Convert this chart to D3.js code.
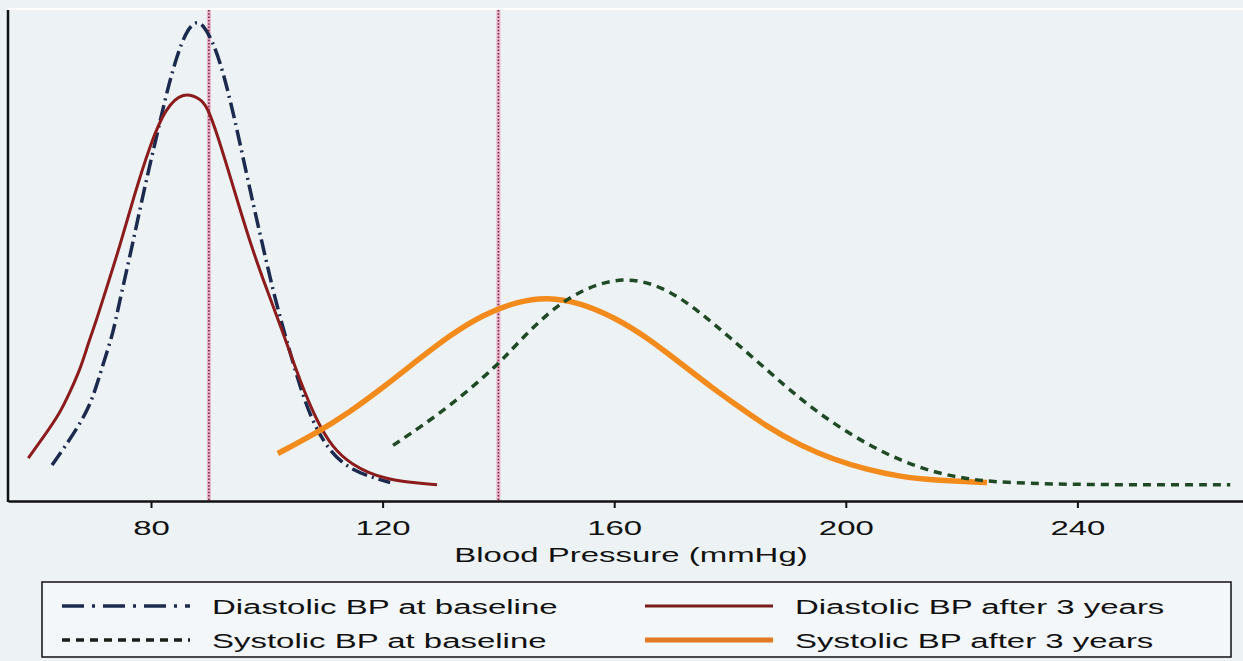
<!DOCTYPE html>
<html>
<head>
<meta charset="utf-8">
<script src="https://cdn.jsdelivr.net/npm/d3@7"></script>
<style>
  html, body { margin: 0; padding: 0; background: #edf3f5; }
  svg { display: block; }
  text { font-family: "Liberation Sans", Arial, Helvetica, sans-serif; fill: #111; }
</style>
</head>
<body>
<svg id="chart" width="1243" height="661"></svg>
<script>
// ---------------- data (BP in mmHg, kernel density) ----------------
const xTicks = [80, 120, 160, 200, 240];
const refLines = [90, 140];
const xTitle = "Blood Pressure (mmHg)";

const diastolicBaseline = [
  [62.9, 0.0018], [65.0, 0.0033], [67.4, 0.0051], [69.4, 0.0069], [70.7, 0.0088],
  [72.1, 0.0111], [73.5, 0.0133], [74.3, 0.0153], [76.4, 0.0199], [78.1, 0.0239],
  [79.8, 0.0277], [81.6, 0.0315], [83.0, 0.0345], [84.5, 0.0371], [86.0, 0.0391],
  [87.6, 0.0401], [89.0, 0.0398], [90.7, 0.0383], [92.4, 0.0358], [94.2, 0.0322],
  [95.9, 0.0283], [97.6, 0.0244], [99.4, 0.0205], [101.1, 0.0168], [102.7, 0.0138],
  [104.6, 0.0105], [106.3, 0.0077], [108.0, 0.0055], [110.5, 0.0032], [114.4, 0.0013],
  [121.3, 0.0003]
];
const diastolicAfter = [
  [58.8, 0.0024], [61.4, 0.0042], [64.3, 0.0063], [66.0, 0.0081], [67.8, 0.0101],
  [69.1, 0.0122], [70.7, 0.0145], [71.7, 0.0161], [74.7, 0.0208], [77.0, 0.0249],
  [79.9, 0.0295], [82.5, 0.0326], [85.6, 0.0340], [88.5, 0.0334], [89.7, 0.0327],
  [91.4, 0.0304], [94.2, 0.0258], [97.2, 0.0208], [100.1, 0.0168], [102.8, 0.0132],
  [105.7, 0.0091], [108.7, 0.0055], [111.4, 0.0033], [114.4, 0.0019], [120.1, 0.0005],
  [129.4, 0.0001]
];
const systolicBaseline = [
  [121.8, 0.0035], [131.6, 0.0068], [140.2, 0.0106], [142.5, 0.0119], [148.4, 0.0149],
  [154.1, 0.0169], [161.5, 0.0181], [168.5, 0.0172], [174.3, 0.0152], [180.0, 0.0128],
  [186.4, 0.0100], [192.1, 0.0075], [197.8, 0.0054], [203.7, 0.0036], [209.4, 0.0022],
  [215.1, 0.0012], [220.9, 0.0006], [226.7, 0.0003], [240.0, 0.0001], [266.4, 0.0001]
];
const systolicAfter = [
  [101.9, 0.0028], [108.7, 0.0046], [114.4, 0.0064], [120.1, 0.0085], [125.9, 0.0108],
  [131.6, 0.0130], [137.4, 0.0148], [143.3, 0.0159], [148.4, 0.0163], [154.1, 0.0158],
  [159.8, 0.0146], [165.7, 0.0128], [171.4, 0.0106], [177.1, 0.0084], [180.5, 0.0072],
  [186.4, 0.0051], [192.1, 0.0035], [197.8, 0.0023], [203.7, 0.0014], [209.4, 0.0008],
  [215.1, 0.0005], [224.4, 0.0003]
];
const seriesNames = [
  "Diastolic BP at baseline", "Diastolic BP after 3 years",
  "Systolic BP at baseline", "Systolic BP after 3 years"
];

// ---------------- drawing ----------------
const W = 1243, H = 661;
const SX = 1.57; // horizontal text stretch seen in the reference
const svg = d3.select("#chart");

svg.append("rect").attr("width", W).attr("height", H).attr("fill", "#edf3f5");

const x = d3.scaleLinear().domain([55.3, 268.6]).range([8, 1243]);
const y = d3.scaleLinear().domain([0, 0.04]).range([486, 22]);
const plotTop = 10, plotBottom = 501;

// thin white top border of plot region
svg.append("line").attr("x1", 8).attr("x2", W).attr("y1", plotTop - 1).attr("y2", plotTop - 1)
  .attr("stroke", "#ffffff").attr("stroke-width", 2);

// reference lines
const refG = svg.append("g");
refG.selectAll("line.pale").data(refLines).join("line")
  .attr("x1", d => x(d)).attr("x2", d => x(d))
  .attr("y1", plotTop).attr("y2", plotBottom)
  .attr("stroke", "#eab4c8").attr("stroke-width", 4);
refG.selectAll("line.dots").data(refLines).join("line")
  .attr("x1", d => x(d)).attr("x2", d => x(d))
  .attr("y1", plotTop).attr("y2", plotBottom)
  .attr("stroke", "#7a2448").attr("stroke-width", 1.6).attr("stroke-dasharray", "1.5,1.8");

const line = d3.line().x(d => x(d[0])).y(d => y(d[1])).curve(d3.curveBasis);

const styles = [
  { data: diastolicBaseline, color: "#1b2a4e", width: 3.5, dash: "16,5,2,5", legendDash: "22,8,3,8", legendColor: "#1b2a4e" },
  { data: diastolicAfter, color: "#8c1c1c", width: 3, dash: null, legendDash: null, legendColor: "#7a1c1c" },
  { data: systolicAfter, color: "#f28a1c", width: 5.5, dash: null, legendDash: null, legendColor: "#e37a22" },
  { data: systolicBaseline, color: "#1f4a24", width: 3.5, dash: "8,6", legendDash: "8,6", legendColor: "#1a1f1a" }
];
styles.forEach(s => {
  svg.append("path").datum(s.data)
    .attr("d", line).attr("fill", "none")
    .attr("stroke", s.color).attr("stroke-width", s.width)
    .attr("stroke-linecap", "butt").attr("stroke-linejoin", "round")
    .attr("stroke-dasharray", s.dash);
});

// axes
svg.append("line").attr("x1", 8).attr("x2", 8).attr("y1", plotTop).attr("y2", plotBottom + 1)
  .attr("stroke", "#111").attr("stroke-width", 2.5);

const xAxis = d3.axisBottom(x).tickValues(xTicks).tickSize(7).tickSizeOuter(0).tickPadding(12);
const gx = svg.append("g").attr("transform", `translate(0,${plotBottom})`).call(xAxis);
gx.select(".domain").attr("stroke", "#111").attr("stroke-width", 2.5);
gx.selectAll(".tick line").attr("stroke", "#111").attr("stroke-width", 2);
gx.selectAll(".tick text")
  .attr("font-size", 21).attr("fill", "#111")
  .attr("font-family", "Liberation Sans, Arial, sans-serif")
  .attr("y", 34).attr("dy", 0)
  .attr("transform", `scale(${SX},1)`);

function stretchedText(g, str, tx, ty, anchor) {
  return g.append("text")
    .attr("transform", `translate(${tx},${ty}) scale(${SX},1)`)
    .attr("text-anchor", anchor).attr("font-size", 21).text(str);
}
stretchedText(svg, xTitle, 631, 562, "middle");

// legend
const lg = svg.append("g");
lg.append("rect").attr("x", 42).attr("y", 582).attr("width", 1189).attr("height", 75)
  .attr("fill", "#f3f7f9").attr("stroke", "#111").attr("stroke-width", 1.5);

const legendItems = [
  { name: seriesNames[0], st: styles[0], col: 0, row: 0 },
  { name: seriesNames[1], st: styles[1], col: 1, row: 0 },
  { name: seriesNames[2], st: styles[3], col: 0, row: 1 },
  { name: seriesNames[3], st: styles[2], col: 1, row: 1 }
];
const colX = [62, 645], rowY = [606, 640];
legendItems.forEach(it => {
  const lx = colX[it.col], ly = rowY[it.row];
  lg.append("line").attr("x1", lx).attr("x2", lx + 128).attr("y1", ly).attr("y2", ly)
    .attr("stroke", it.st.legendColor)
    .attr("stroke-width", Math.min(it.st.width, 5))
    .attr("stroke-dasharray", it.st.legendDash);
  stretchedText(lg, it.name, lx + 150, ly + 8, "start");
});
</script>
</body>
</html>
